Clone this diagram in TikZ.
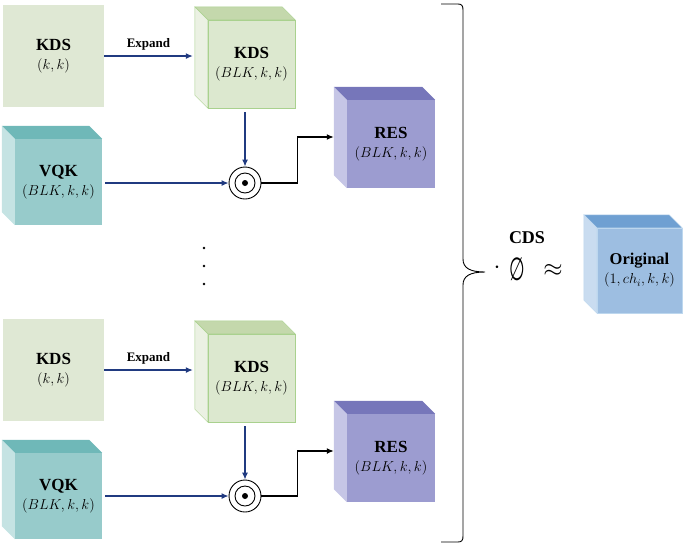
\documentclass[tikz,border=0pt]{standalone}
\usepackage{fontspec}
\setmainfont{Liberation Serif}
\newfontfamily\dejavu{DejaVu Sans}
\usetikzlibrary{arrows.meta,positioning}

\definecolor{kdsflat}{HTML}{DFE8D4}
\definecolor{kdsfront}{HTML}{DCE8CF}
\definecolor{kdstop}{HTML}{C4D8AC}
\definecolor{kdsleft}{HTML}{EBF1E3}
\definecolor{kdsline}{HTML}{A9D18E}
\definecolor{vqkfront}{HTML}{97CBCB}
\definecolor{vqktop}{HTML}{6FB8B8}
\definecolor{vqkleft}{HTML}{C5E3E3}
\definecolor{resfront}{HTML}{9C9CD0}
\definecolor{restop}{HTML}{7676BA}
\definecolor{resleft}{HTML}{C6C6E6}
\definecolor{orgfront}{HTML}{9DBEE1}
\definecolor{orgtop}{HTML}{6FA0D2}
\definecolor{orgleft}{HTML}{C9DCF0}
\definecolor{orgline}{HTML}{BDD7EE}
\definecolor{navy}{HTML}{203A80}

% top and left faces of a cube, #1 = front node
\newcommand{\cubefaces}[3]{%
  \path[#2] (#1.north west) -- ([xshift=-13pt,yshift=13pt]#1.north west)
    -- ([xshift=-13pt,yshift=13pt]#1.north east) -- (#1.north east) -- cycle;
  \path[#3] (#1.north west) -- ([xshift=-13pt,yshift=13pt]#1.north west)
    -- ([xshift=-13pt,yshift=13pt]#1.south west) -- (#1.south west) -- cycle;
}
\newcommand{\dimtext}[1]{{\fontsize{14}{16}\selectfont$#1$}}

\begin{document}
\begin{tikzpicture}[x=1pt,y=-1pt,
    box/.style={minimum width=87pt, minimum height=87pt, inner sep=0pt, align=center,
      font=\fontsize{17}{19}\selectfont},
    odot/.style={circle, draw, line width=0.9pt, minimum size=32pt, inner sep=0pt},
    flow/.style={-{Latex[length=7pt,width=6pt]}, line width=1.2pt, navy},
    outflow/.style={-{Latex[length=7pt,width=6pt]}, line width=1.3pt, black},
    tag/.style={above=2pt, text=black, font=\bfseries\fontsize{13}{15}\selectfont}]
  \useasboundingbox (0,0) rectangle (685,547);

  %upper branch
  \node[box, fill=kdsflat, minimum width=101pt, minimum height=102pt] (kds1) at (53.5,56)
    {\textbf{KDS}\\\dimtext{(k,k)}};
  \node[box, fill=kdsfront, draw=kdsline, minimum height=88pt] (kdsc1) at (251.5,64)
    {\textbf{KDS}\\\dimtext{(BLK,k,k)}};
  \cubefaces{kdsc1}{fill=kdstop, draw=kdsline}{fill=kdsleft, draw=kdsline}
  \node[box, fill=vqkfront, minimum height=86pt] (vqk1) at (58.5,182)
    {\textbf{VQK}\\\dimtext{(BLK,k,k)}};
  \cubefaces{vqk1}{fill=vqktop}{fill=vqkleft}
  \node[box, fill=resfront, minimum width=88pt, minimum height=88pt] (res1) at (391,144)
    {\textbf{RES}\\\dimtext{(BLK,k,k)}};
  \cubefaces{res1}{fill=restop}{fill=resleft}
  \node[odot] (mul1) at (245,183) {};
  \draw[line width=0.9pt] (mul1.center) circle (10pt);
  \fill (mul1.center) circle (3pt);

  \draw[flow] (kds1.east) -- node[tag] {Expand}
    ([xshift=-15pt]kds1.east -| kdsc1.west);
  \draw[flow] ([yshift=-4pt]mul1.north |- kdsc1.south) -- (mul1.north);
  \draw[flow] ([xshift=3pt]vqk1.east |- mul1) -- (mul1.west);
  \draw[outflow] (mul1.east) -- ++(36,0) |- ([xshift=-13pt,yshift=7pt]res1.west);

  %dots
  \fill (204,248) circle (1.3pt);
  \fill (204,266) circle (1.3pt);
  \fill (204,284) circle (1.3pt);

  %lower branch
  \node[box, fill=kdsflat, minimum width=101pt, minimum height=102pt] (kds2) at (53.5,370)
    {\textbf{KDS}\\\dimtext{(k,k)}};
  \node[box, fill=kdsfront, draw=kdsline, minimum height=88pt] (kdsc2) at (251.5,378)
    {\textbf{KDS}\\\dimtext{(BLK,k,k)}};
  \cubefaces{kdsc2}{fill=kdstop, draw=kdsline}{fill=kdsleft, draw=kdsline}
  \node[box, fill=vqkfront, minimum height=86pt] (vqk2) at (58.5,496)
    {\textbf{VQK}\\\dimtext{(BLK,k,k)}};
  \cubefaces{vqk2}{fill=vqktop}{fill=vqkleft}
  \node[box, fill=resfront, minimum width=88pt, minimum height=88pt] (res2) at (391,458)
    {\textbf{RES}\\\dimtext{(BLK,k,k)}};
  \cubefaces{res2}{fill=restop}{fill=resleft}
  \node[odot] (mul2) at (245,496) {};
  \draw[line width=0.9pt] (mul2.center) circle (10pt);
  \fill (mul2.center) circle (3pt);

  \draw[flow] (kds2.east) -- node[tag] {Expand}
    ([xshift=-15pt]kds2.east -| kdsc2.west);
  \draw[flow] ([yshift=-4pt]mul2.north |- kdsc2.south) -- (mul2.north);
  \draw[flow] ([xshift=3pt]vqk2.east |- mul2) -- (mul2.west);
  \draw[outflow] (mul2.east) -- ++(36,0) |- ([xshift=-13pt,yshift=7pt]res2.west);

  %brace
  \draw[line width=0.9pt] (441,4) -- (458,4) .. controls (462,4) and (463,6) .. (463,10)
    -- (463,259) .. controls (463,268) and (470,272) .. (485,272)
    .. controls (470,272) and (463,276) .. (463,285) -- (463,536)
    .. controls (463,540) and (462,542) .. (458,542) -- (441,542);

  %CDS
  \node[font=\bfseries\fontsize{18}{20}\selectfont] (cds) at (527,238) {CDS};
  \node[font=\fontsize{30}{34}\selectfont] (dot) at (497,268) {$\cdot$};
  \node[font=\dejavu\fontsize{32}{36}\selectfont, xscale=0.56] (empty) at (517,269) {∅};
  \node[font=\fontsize{30}{34}\selectfont] (approx) at (553,270) {$\approx$};

  %original
  \node[box, fill=orgfront, draw=orgline, minimum width=85pt, minimum height=85pt] (org) at (639.5,270.5)
    {\textbf{\fontsize{16.5}{18}\selectfont Original}\\\dimtext{(1,ch_i,k,k)}};
  \cubefaces{org}{fill=orgtop, draw=orgline}{fill=orgleft, draw=orgline}
\end{tikzpicture}
\end{document}
